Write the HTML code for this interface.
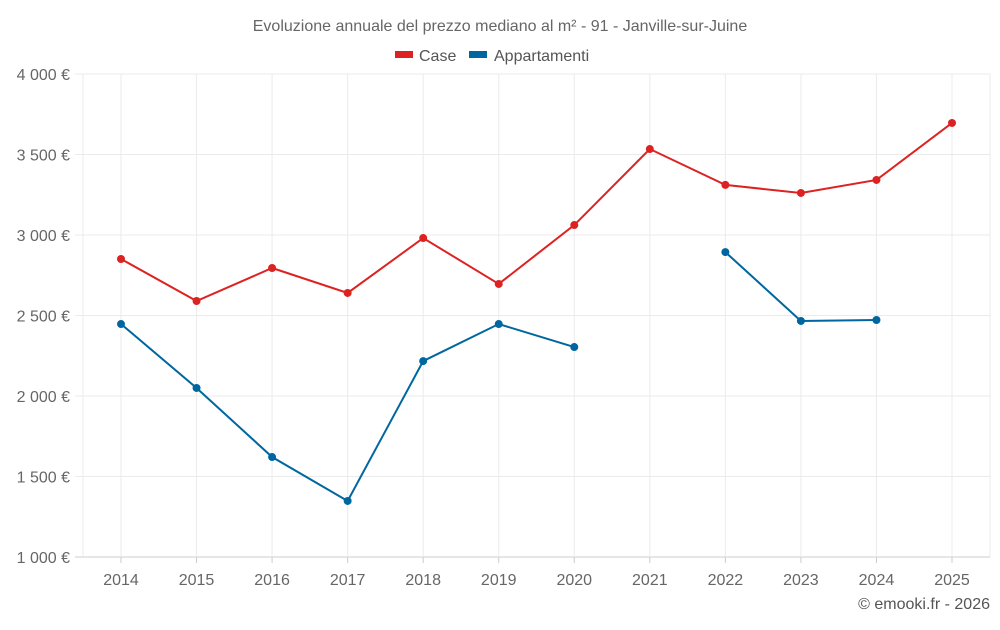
<!DOCTYPE html>
<html><head><meta charset="utf-8"><style>
body{margin:0;background:#fff;font-family:"Liberation Sans",sans-serif;}
svg text{font-family:"Liberation Sans",sans-serif;}
</style></head><body>
<svg id="chart" width="1000" height="625">
<text x="500" y="31" text-anchor="middle" font-size="16" fill="#666">Evoluzione annuale del prezzo mediano al m² - 91 - Janville-sur-Juine</text>
<g>
<g><rect x="395" y="51" width="18" height="7" fill="#dd2222"/><text x="419" y="61" font-size="16" fill="#555">Case</text></g>
<g><rect x="469" y="51" width="18" height="7" fill="#0066a0"/><text x="494" y="61" font-size="16" fill="#555">Appartamenti</text></g>
</g>
<g id="grid"></g><g id="axes"></g><g id="series"></g>
<text x="990" y="609" text-anchor="end" font-size="16" fill="#555">© emooki.fr - 2026</text>
</svg>
<script>
const years=[2014,2015,2016,2017,2018,2019,2020,2021,2022,2023,2024,2025];
const caseValues=[2851,2590,2795,2640,2981,2696,3062,3534,3311,3261,3342,3696];
const aptValues=[2447,2050,1621,1348,2217,2447,2304,null,2894,2466,2472,null];
const yTicks=[1000,1500,2000,2500,3000,3500,4000];
const yLabels=["1 000 €","1 500 €","2 000 €","2 500 €","3 000 €","3 500 €","4 000 €"];
const NS="http://www.w3.org/2000/svg";
const L=83,R=990,T=74,B=557;
const x=i=>121+i*(952-121)/(years.length-1);
const y=v=>B-(v-1000)/3000*(B-T);
function mk(tag,attrs,parent){const e=document.createElementNS(NS,tag);for(const k in attrs)e.setAttribute(k,attrs[k]);parent.appendChild(e);return e;}
const grid=document.getElementById('grid'),axes=document.getElementById('axes'),ser=document.getElementById('series');
yTicks.forEach((t,i)=>{
 const l=mk('line',{x1:75,x2:R,y1:y(t),y2:y(t),stroke:i==0?'#ccc':'#ebebeb'},grid);
 
 
 const tx=mk('text',{x:70,y:y(t)+6,'text-anchor':'end','font-size':16,fill:'#666'},axes);
 tx.textContent=yLabels[i];
 
 
});
const ll=mk('line',{x1:L,x2:L,y1:T,y2:B,stroke:'#ebebeb'},grid);


years.forEach((yr,i)=>{
 const l=mk('line',{x1:x(i),x2:x(i),y1:T,y2:B,stroke:'#ebebeb'},grid);
 
 
 const tk=mk('line',{x1:x(i),x2:x(i),y1:B,y2:B+6,stroke:'#ccc'},axes);
 
 
 const tx=mk('text',{x:x(i),y:585,'text-anchor':'middle','font-size':16,fill:'#666'},axes);
 tx.textContent=yr;
 
 
});
const rl=mk('line',{x1:R,x2:R,y1:T,y2:B,stroke:'#ebebeb'},grid);


function draw(vals,color,name){
 let segs=[],cur=[];
 vals.forEach((v,i)=>{if(v==null){if(cur.length)segs.push(cur);cur=[];}else cur.push([x(i),y(v)]);});
 if(cur.length)segs.push(cur);
 segs.forEach(s=>{
  const p=mk('polyline',{points:s.map(q=>q.join(',')).join(' '),fill:'none',stroke:color,'stroke-width':2},ser);
  
  
 });
 vals.forEach((v,i)=>{if(v==null)return;
  const c=mk('circle',{cx:x(i),cy:y(v),r:4,fill:color},ser);
  
  
 });
}
draw(caseValues,'#dd2222','case');
draw(aptValues,'#0066a0','appartamenti');
</script>
</body></html>
